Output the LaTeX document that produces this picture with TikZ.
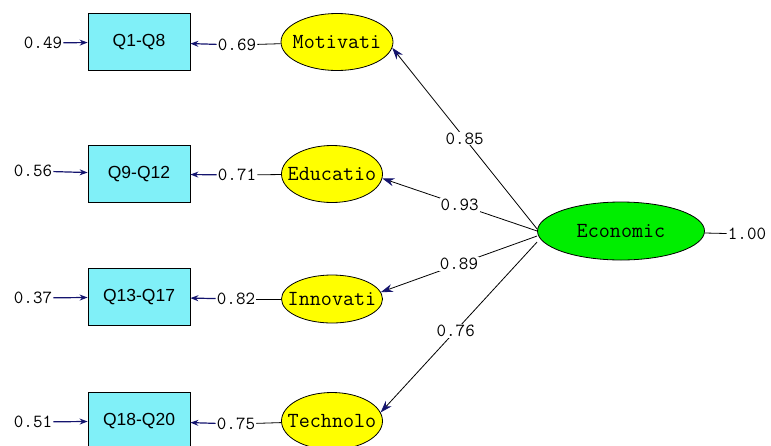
\documentclass[tikz,border=0pt]{standalone}
\usepackage{fontspec}
\setmainfont{Liberation Sans}
\usetikzlibrary{arrows.meta}
\usetikzlibrary{shapes.geometric}
\definecolor{boxcyan}{RGB}{128,240,248}
\definecolor{latyellow}{RGB}{255,255,0}
\definecolor{latgreen}{RGB}{0,238,0}
\definecolor{tipnavy}{RGB}{20,20,110}

\begin{document}
\begin{tikzpicture}[
    x=1pt, y=-1pt,
    line width=0.8pt,
    observed/.style={draw, fill=boxcyan, minimum width=102pt, minimum height=57pt,
        inner sep=0pt, font=\fontsize{17.5}{18}\selectfont},
    latent/.style={draw, ellipse, fill=latyellow, minimum width=101pt, minimum height=57pt,
        inner xsep=-14pt, inner ysep=0pt, font=\ttfamily\fontsize{21.5}{22}\selectfont},
    value/.style={inner sep=1pt, fill=white, font=\ttfamily\fontsize{18.5}{19}\selectfont},
    loadarrow/.style={-{Stealth[color=tipnavy, length=12pt, width=8pt]}},
    errarrow/.style={draw=tipnavy, line width=1.2pt, -{Stealth[color=tipnavy, length=8pt, width=6pt]}},
    every node/.style={color=black}
    ]
    \useasboundingbox (0,0) rectangle (771,445);
    \clip (0,0) rectangle (771,445);

    % observed variables
    \node[observed] (b1) at (139,42)  {Q1-Q8};
    \node[observed] (b2) at (139,174) {Q9-Q12};
    \node[observed] (b3) at (139,297) {Q13-Q17};
    \node[observed] (b4) at (139,421) {Q18-Q20};

    % error variances
    \node[value] (e1) at (43,43)  {0.49};
    \node[value] (e2) at (33,171) {0.56};
    \node[value] (e3) at (33,298) {0.37};
    \node[value] (e4) at (33,422) {0.51};

    % latent factors
    \node[latent, minimum width=112pt] (Motivati) at (337,42) {Motivati};
    \node[latent] (Educatio) at (332,174) {Educatio};
    \node[latent, minimum height=48pt] (Innovati) at (332,299) {Innovati};
    \node[latent] (Technolo) at (332,421) {Technolo};
    \node[latent, fill=latgreen, minimum width=167pt, minimum height=58pt] (Economic) at (621,231) {Economic};

    % loadings of the boxes
    \node[value] (l1) at (237,45)  {0.69};
    \node[value] (l2) at (237,175) {0.71};
    \node[value] (l3) at (236,299) {0.82};
    \node[value] (l4) at (236,424) {0.75};
    \node[value] (u1) at (747,234) {1.00};

    % error arrows
    \foreach \i in {1,...,4}
        \draw[errarrow] (e\i) -- (b\i);

    % factor to box
    \draw (Motivati) -- (l1);
    \draw (Educatio) -- (l2);
    \draw (Innovati) -- (l3);
    \draw (Technolo) -- (l4);
    \foreach \i in {1,...,4}
        \draw[errarrow] (l\i) -- (b\i);

    % Economic to factors
    \draw[loadarrow] ([yshift=2pt]Economic.west) -- node[value, pos=0.5] {0.85} (Motivati.-6);
    \draw[loadarrow] ([yshift=0pt]Economic.west) -- node[value, pos=0.5] {0.93} (Educatio.-5);
    \draw[loadarrow] ([yshift=-5pt]Economic.west) -- node[value, pos=0.5] {0.89} (Innovati.8);
    \draw[loadarrow] ([yshift=-11pt]Economic.west) -- node[value, pos=0.52] {0.76} (Technolo.10);
    \draw (Economic) -- (u1);
\end{tikzpicture}
\end{document}
